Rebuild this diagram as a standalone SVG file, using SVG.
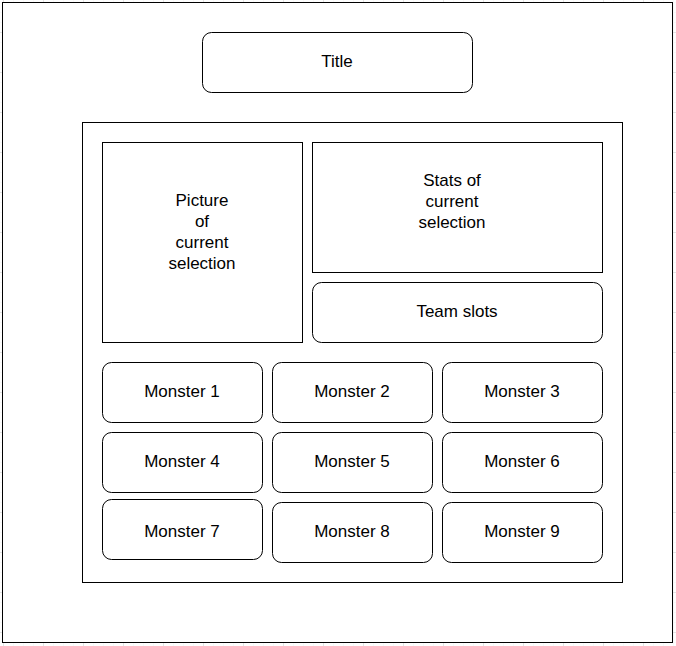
<svg xmlns="http://www.w3.org/2000/svg" width="676" height="646" viewBox="0 0 676 646">
  <style>
    .box { fill: #ffffff; stroke: #000000; stroke-width: 1; }
    .lbl { font-family: "Liberation Sans", Arial, sans-serif; font-size: 17px; fill: #000000; text-anchor: middle; }
  </style>
  <defs>
    <pattern id="minor" x="3" y="2" width="10" height="10" patternUnits="userSpaceOnUse">
      <path d="M 0 0 L 10 0 M 0 0 L 0 10" fill="none" stroke="#f4f4f4" stroke-width="1"/>
    </pattern>
    <pattern id="major" x="3" y="32" width="40" height="40" patternUnits="userSpaceOnUse">
      <path d="M 0 0.5 L 40 0.5 M 0.5 0 L 0.5 40" fill="none" stroke="#e4e4e4" stroke-width="1"/>
    </pattern>
  </defs>
  <rect width="676" height="646" fill="#ffffff"/>
  <rect width="676" height="646" fill="url(#minor)"/>
  <rect width="676" height="646" fill="url(#major)"/>

  <g id="frame">
    <rect class="box" x="2.5" y="2.5" width="670" height="640"/>
  </g>
  <g id="title">
    <rect class="box" x="202.5" y="32.5" width="270" height="60" rx="9" ry="9"/>
    <text class="lbl" x="337" y="67">Title</text>
  </g>
  <g id="panel">
    <rect class="box" x="82.5" y="122.5" width="540" height="460"/>
  </g>
  <g id="picture">
    <rect class="box" x="102.5" y="142.5" width="200" height="200"/>
    <text class="lbl" x="202" y="206">Picture</text>
    <text class="lbl" x="202" y="227">of</text>
    <text class="lbl" x="202" y="248">current</text>
    <text class="lbl" x="202" y="269">selection</text>
  </g>
  <g id="stats">
    <rect class="box" x="312.5" y="142.5" width="290" height="130"/>
    <text class="lbl" x="452" y="186">Stats of</text>
    <text class="lbl" x="452" y="207">current</text>
    <text class="lbl" x="452" y="228">selection</text>
  </g>
  <g id="team-slots">
    <rect class="box" x="312.5" y="282.5" width="290" height="60" rx="9" ry="9"/>
    <text class="lbl" x="457" y="317">Team slots</text>
  </g>
  <g id="monster-1">
    <rect class="box" x="102.5" y="362.5" width="160" height="60" rx="9" ry="9"/>
    <text class="lbl" x="182" y="397">Monster 1</text>
  </g>
  <g id="monster-2">
    <rect class="box" x="272.5" y="362.5" width="160" height="60" rx="9" ry="9"/>
    <text class="lbl" x="352" y="397">Monster 2</text>
  </g>
  <g id="monster-3">
    <rect class="box" x="442.5" y="362.5" width="160" height="60" rx="9" ry="9"/>
    <text class="lbl" x="522" y="397">Monster 3</text>
  </g>
  <g id="monster-4">
    <rect class="box" x="102.5" y="432.5" width="160" height="60" rx="9" ry="9"/>
    <text class="lbl" x="182" y="467">Monster 4</text>
  </g>
  <g id="monster-5">
    <rect class="box" x="272.5" y="432.5" width="160" height="60" rx="9" ry="9"/>
    <text class="lbl" x="352" y="467">Monster 5</text>
  </g>
  <g id="monster-6">
    <rect class="box" x="442.5" y="432.5" width="160" height="60" rx="9" ry="9"/>
    <text class="lbl" x="522" y="467">Monster 6</text>
  </g>
  <g id="monster-7">
    <rect class="box" x="102.5" y="499.5" width="160" height="60" rx="9" ry="9"/>
    <text class="lbl" x="182" y="537">Monster 7</text>
  </g>
  <g id="monster-8">
    <rect class="box" x="272.5" y="502.5" width="160" height="60" rx="9" ry="9"/>
    <text class="lbl" x="352" y="537">Monster 8</text>
  </g>
  <g id="monster-9">
    <rect class="box" x="442.5" y="502.5" width="160" height="60" rx="9" ry="9"/>
    <text class="lbl" x="522" y="537">Monster 9</text>
  </g>
  <g id="connectors"/>
</svg>
